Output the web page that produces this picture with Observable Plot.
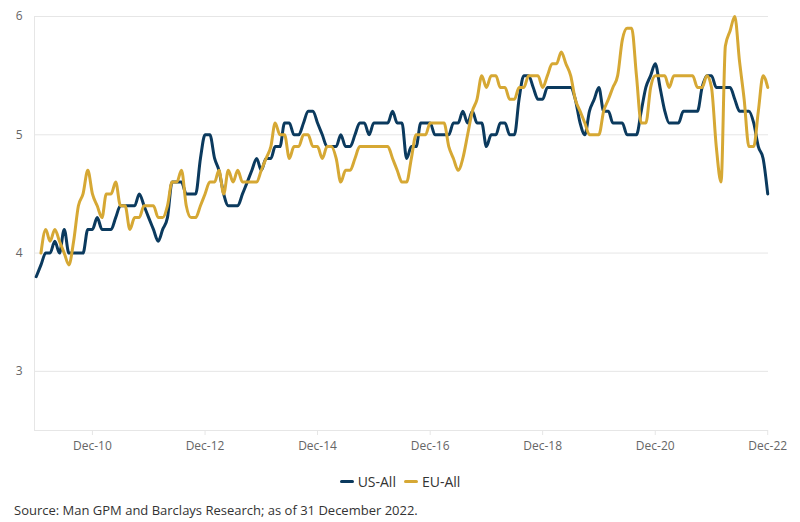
<!DOCTYPE html>
<html>
<head>
<meta charset="utf-8">
<script src="https://cdn.jsdelivr.net/npm/d3@7"></script>
<script src="https://cdn.jsdelivr.net/npm/@observablehq/plot@0.6"></script>
<style>
  body { margin: 0; background: #fff; font-family: "Open Sans", sans-serif; }
  #chart { width: 800px; height: 522px; position: relative; }
  .legend { position: absolute; top: 468px; left: 0; width: 800px; text-align: center; font-size: 14px; color: #333; }
  .legend span.item { display: inline-flex; align-items: center; margin: 0 4px; }
  .legend span.sw { display: inline-block; width: 14px; height: 3px; border-radius: 2px; margin-right: 4px; }
  .source { position: absolute; top: 501px; left: 14px; font-size: 13px; color: #333; }
</style>
</head>
<body>
<div id="chart"></div>
<script>
// Monthly series, first point = Dec 2009 (US) / Jan 2010 (EU)
const seriesNames = ["US-All", "EU-All"];
const seriesColors = ["#0b3a5e", "#d6a834"];
const startYear = 2009, startMonth = 11; // December 2009

const usValues = [
  3.8, 3.9, 4.0, 4.0, 4.1, 4.0, 4.2, 4.0, 4.0, 4.0, 4.0, 4.2,
  4.2, 4.3, 4.2, 4.2, 4.2, 4.3, 4.4, 4.4, 4.4, 4.4, 4.5, 4.4,
  4.3, 4.2, 4.1, 4.2, 4.3, 4.6, 4.6, 4.6, 4.5, 4.5, 4.5, 4.8,
  5.0, 5.0, 4.8, 4.7, 4.5, 4.4, 4.4, 4.4, 4.5, 4.6, 4.7, 4.8,
  4.7, 4.8, 4.8, 4.9, 4.9, 5.1, 5.1, 5.0, 5.0, 5.1, 5.2, 5.2,
  5.1, 5.0, 4.9, 4.9, 4.9, 5.0, 4.9, 4.9, 5.0, 5.1, 5.1, 5.0,
  5.1, 5.1, 5.1, 5.1, 5.2, 5.1, 5.1, 4.8, 4.9, 4.9, 5.1, 5.1,
  5.1, 5.0, 5.0, 5.0, 5.0, 5.1, 5.1, 5.2, 5.1, 5.2, 5.1, 5.1,
  4.9, 5.0, 5.0, 5.1, 5.1, 5.0, 5.0, 5.3, 5.5, 5.5, 5.4, 5.3,
  5.3, 5.4, 5.4, 5.4, 5.4, 5.4, 5.4, 5.3, 5.1, 5.0, 5.2, 5.3,
  5.4, 5.2, 5.2, 5.1, 5.1, 5.1, 5.0, 5.0, 5.0, 5.2, 5.4, 5.5,
  5.6, 5.4, 5.2, 5.1, 5.1, 5.1, 5.2, 5.2, 5.2, 5.2, 5.4, 5.5,
  5.5, 5.4, 5.4, 5.4, 5.4, 5.3, 5.2, 5.2, 5.2, 5.1, 4.9, 4.8,
  4.5
];
const euOffset = 1; // EU series starts one month later
const euValues = [
  4.0, 4.2, 4.1, 4.2, 4.1, 4.0, 3.9, 4.1, 4.4, 4.5, 4.7,
  4.5, 4.4, 4.3, 4.5, 4.5, 4.6, 4.4, 4.4, 4.2, 4.3, 4.3, 4.4,
  4.4, 4.4, 4.3, 4.3, 4.4, 4.6, 4.6, 4.7, 4.4, 4.3, 4.3, 4.4,
  4.5, 4.6, 4.6, 4.7, 4.5, 4.7, 4.6, 4.7, 4.6, 4.6, 4.6, 4.6,
  4.7, 4.8, 4.9, 5.1, 5.0, 5.0, 4.8, 4.9, 4.9, 5.0, 5.0, 4.9,
  4.9, 4.8, 4.9, 4.9, 4.8, 4.6, 4.7, 4.7, 4.8, 4.9, 4.9, 4.9,
  4.9, 4.9, 4.9, 4.9, 4.8, 4.7, 4.6, 4.6, 4.8, 5.0, 5.0, 5.0,
  5.1, 5.1, 5.1, 5.1, 4.9, 4.8, 4.7, 4.8, 5.0, 5.2, 5.3, 5.5,
  5.4, 5.5, 5.5, 5.4, 5.4, 5.3, 5.3, 5.4, 5.4, 5.5, 5.5, 5.5,
  5.4, 5.5, 5.6, 5.6, 5.7, 5.6, 5.5, 5.3, 5.2, 5.1, 5.0, 5.0,
  5.0, 5.2, 5.3, 5.4, 5.5, 5.8, 5.9, 5.9, 5.5, 5.1, 5.1, 5.4,
  5.5, 5.5, 5.5, 5.4, 5.5, 5.5, 5.5, 5.5, 5.5, 5.4, 5.4, 5.5,
  5.4, 4.9, 4.6, 5.75, 5.88, 6.0, 5.62, 5.3, 4.9, 4.9, 5.2, 5.5,
  5.4
];
const yTicks = [3, 4, 5, 6];
const xTickYears = [2010, 2012, 2014, 2016, 2018, 2020, 2022];
const sourceText = "Source: Man GPM and Barclays Research; as of 31 December 2022.";

const monthDate = (i) => new Date(Date.UTC(startYear, startMonth + i, 1));
const rows = [
  ...usValues.map((v, i) => ({series: seriesNames[0], date: monthDate(i), value: v})),
  ...euValues.map((v, i) => ({series: seriesNames[1], date: monthDate(i + euOffset), value: v}))
];
const xTicks = xTickYears.map(y => new Date(Date.UTC(y, 11, 1)));

const plot = Plot.plot({
  width: 800,
  height: 458,
  marginLeft: 34,
  marginRight: 32,
  marginTop: 16,
  marginBottom: 28,
  style: {fontFamily: "'Open Sans', sans-serif", fontSize: "12px", color: "#666", background: "#fff"},
  x: {type: "utc", domain: [new Date(Date.UTC(2009, 10, 20)), new Date(Date.UTC(2022, 11, 6))], ticks: xTicks, tickFormat: d3.utcFormat("%b-%y"), label: null},
  y: {domain: [2.5, 6], ticks: yTicks, label: null},
  color: {domain: seriesNames, range: seriesColors},
  marks: [
    Plot.gridY(yTicks, {stroke: "#e6e6e6", strokeOpacity: 1, strokeWidth: 1}),
    Plot.ruleX([new Date(Date.UTC(2009, 10, 20))], {stroke: "#e6e6e6", strokeWidth: 1}),
    Plot.ruleY([2.5], {stroke: "#e6e6e6", strokeWidth: 1}),
    Plot.axisY({ticks: yTicks, tickFormat: d => String(d), tickSize: 0, tickPadding: 12, fill: "#666", fontSize: 12}),
    Plot.axisX({ticks: xTicks, tickFormat: d3.utcFormat("%b-%y"), tickSize: 5, stroke: "#e6e6e6", strokeOpacity: 1, tickPadding: 6, fill: "#666", fontSize: 12}),
    Plot.lineY(rows, {x: "date", y: "value", z: "series", stroke: "series", strokeWidth: 3, curve: "monotone-x"})
  ]
});

const root = document.getElementById("chart");
root.appendChild(plot);

const legend = document.createElement("div");
legend.className = "legend";
seriesNames.forEach((name, i) => {
  const item = document.createElement("span");
  item.className = "item";
  const sw = document.createElement("span");
  sw.className = "sw";
  sw.style.background = seriesColors[i];
  item.appendChild(sw);
  item.appendChild(document.createTextNode(name));
  legend.appendChild(item);
});
root.appendChild(legend);

const src = document.createElement("div");
src.className = "source";
src.textContent = sourceText;
root.appendChild(src);
</script>
</body>
</html>
